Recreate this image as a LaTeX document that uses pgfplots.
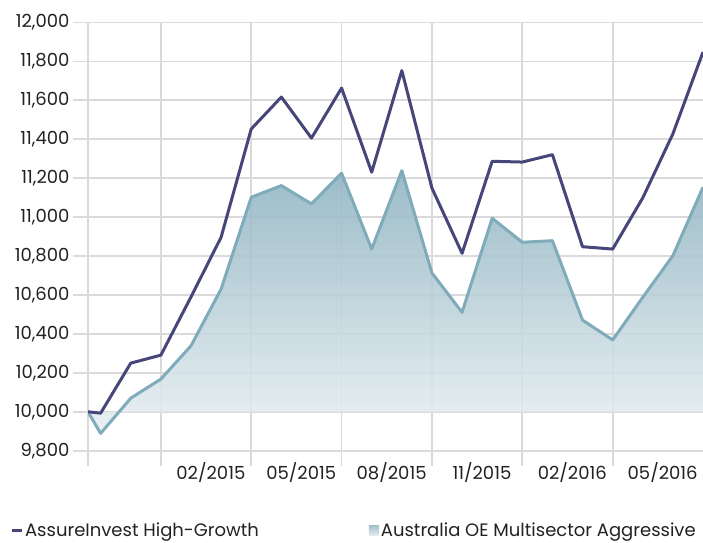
\documentclass[border=0pt]{standalone}
\usepackage{pgfplots}
\pgfplotsset{compat=1.18}
\usepackage{fontspec}
\setmainfont{Poppins}

\definecolor{growth}{HTML}{46467A}
\definecolor{peerline}{HTML}{7FABBA}
\definecolor{areatop}{HTML}{8DB2C0}
\definecolor{areabot}{HTML}{E8EFF2}
\definecolor{gridgray}{HTML}{DADADA}
\definecolor{labelgray}{HTML}{222222}

\begin{document}
\begin{tikzpicture}
\useasboundingbox (0,0) rectangle (703pt,542pt);
\begin{axis}[
    at={(88pt,91.3pt)}, anchor=south west,
    scale only axis,
    width=615pt, height=428.2pt,
    xmin=-0.42, xmax=20,
    ymin=9800, ymax=12000,
    axis line style={draw=none},
    xtick={2,5,8,11,14,17},
    xticklabels={02/2015,05/2015,08/2015,11/2015,02/2016,05/2016},
    extra x ticks={-0.42},
    extra x tick labels={},
    ytick={9800,10000,...,12000},
    scaled y ticks=false,
    grid=major,
    major grid style={gridgray, line width=1.8pt},
    tick style={gridgray, line width=1.8pt},
    tick align=outside,
    major tick length=15pt,
    xtick pos=bottom, ytick pos=left,
    /pgf/number format/.cd, fixed, 1000 sep={,}, assume math mode=true,
    /pgfplots/.cd,
    tick label style={font=\fontsize{18}{21}\selectfont, text=labelgray},
    xticklabel style={anchor=north, xshift=50pt, yshift=7pt},
    yticklabel style={anchor=east},
    legend style={at={(axis description cs:-0.127,-0.187)}, anchor=west,
        draw=none, fill=none, inner sep=0pt,
        font=\fontsize{18}{21}\selectfont, text=labelgray,
        legend columns=2,
        /tikz/every even column/.append style={column sep=108pt}},
    legend cell align=left,
]
% peer group area
\addplot[draw=none, fill opacity=0.88, top color=areatop, bottom color=areabot, forget plot]
  coordinates {(-0.42,10000) (0,9889) (1,10070) (2,10168) (3,10339) (4,10631) (5,11102)
    (6,11162) (7,11068) (8,11226) (9,10836) (10,11239) (11,10713) (12,10511) (13,10994)
    (14,10871) (15,10879) (16,10471) (17,10369) (18,10588) (19,10802) (20,11154) (20,10000)};
\addplot[peerline, line width=3pt, line join=round, forget plot]
  coordinates {(-0.42,10000) (0,9889) (1,10070) (2,10168) (3,10339) (4,10631) (5,11102)
    (6,11162) (7,11068) (8,11226) (9,10836) (10,11239) (11,10713) (12,10511) (13,10994)
    (14,10871) (15,10879) (16,10471) (17,10369) (18,10588) (19,10802) (20,11154)};
% fund
\addplot[growth, line width=3pt, line join=round,
    legend image code/.code={\draw[growth, line width=3pt] (0pt,0pt) -- (10pt,0pt);}]
  coordinates {(-0.42,10000) (0,9993) (1,10250) (2,10291) (3,10590) (4,10897) (5,11453)
    (6,11617) (7,11406) (8,11663) (9,11231) (10,11753) (11,11149) (12,10814) (13,11287)
    (14,11283) (15,11321) (16,10848) (17,10836) (18,11099) (19,11428) (20,11848)};
\addlegendentry{AssureInvest High-Growth}
\addlegendimage{legend image code/.code={\shade[draw=none, top color=areatop!80, bottom color=areabot] (0pt,-5pt) rectangle (10pt,5pt);}}
\addlegendentry{Australia OE Multisector Aggressive}
\end{axis}
\end{tikzpicture}
\end{document}
